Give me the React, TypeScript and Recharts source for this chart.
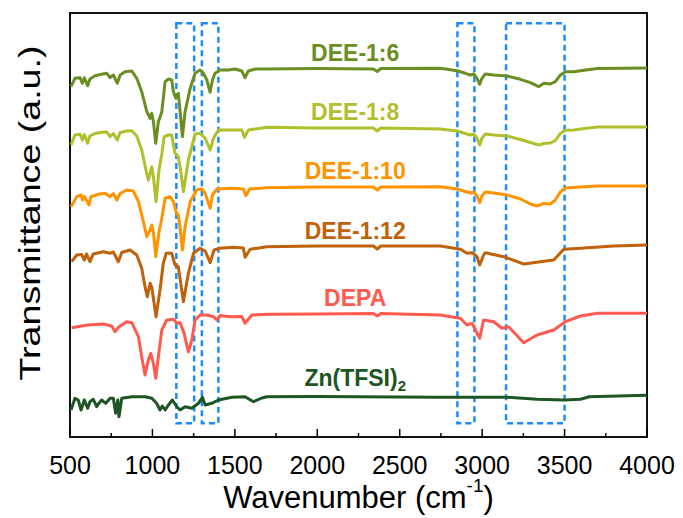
import React from 'react';
import { LineChart, Line, XAxis, YAxis, ReferenceArea, ReferenceDot } from 'recharts';

const FONT = 'Arial, "Liberation Sans", sans-serif';

type Pt = [number, number];

// FTIR spectra, [wavenumber cm-1, offset transmittance a.u.]
const DEE_1_6: Pt[] = [
  [506, 350.3], [530, 358.7], [561, 359.3], [575, 353.7], [587, 359.3], [607, 351.3], [621, 358], [652, 361.3],
  [692, 362.7], [723, 363.7], [743, 359.3], [763, 362], [787, 353.7], [804, 362], [834, 365.3], [875, 366],
  [905, 358.7], [935, 345.3], [966, 325.3], [986, 318.7], [996, 323.7], [1006, 315.3], [1020, 293.7], [1036, 315.3],
  [1057, 325.3], [1077, 355.3], [1097, 358], [1117, 357], [1127, 345.3], [1142, 338.7], [1157, 343.7], [1168, 325.3],
  [1182, 300.3], [1198, 325.3], [1229, 348.7], [1259, 363.7], [1289, 367], [1309, 363.7], [1330, 357], [1350, 344.7],
  [1364, 357], [1380, 363.7], [1411, 367], [1461, 367], [1502, 368], [1542, 366], [1562, 359.3], [1582, 366],
  [1623, 368], [1684, 368], [2000, 368.5], [2340, 368], [2364, 365.5], [2385, 368.5], [2746, 368.7], [2848, 366.3],
  [2898, 363.7], [2928, 362], [2949, 363], [2969, 358.7], [2985, 352.7], [2999, 358.7], [3019, 363], [3070, 362],
  [3151, 361], [3232, 357.7], [3293, 354.3], [3343, 350.3], [3374, 353.7], [3414, 353], [3444, 355.3], [3475, 362],
  [3505, 365.3], [3556, 365.3], [3596, 366.3], [3700, 368.5], [3850, 368.7], [4000, 369],
];

const DEE_1_8: Pt[] = [
  [506, 292], [530, 302], [561, 302.7], [575, 297], [587, 302.5], [607, 293.7], [621, 301], [652, 303.5],
  [692, 304.7], [723, 305], [743, 300.3], [763, 303.5], [787, 297], [804, 304.5], [844, 306], [875, 306.3],
  [905, 301], [935, 287], [966, 263], [976, 257], [996, 270.3], [1006, 260], [1022, 235.3], [1040, 267],
  [1057, 283], [1071, 300.3], [1097, 302], [1117, 302], [1137, 283.7], [1157, 280.3], [1170, 268], [1188, 245.3],
  [1218, 277], [1259, 303], [1289, 303.7], [1320, 298.7], [1350, 287], [1370, 298.7], [1400, 307], [1471, 307],
  [1542, 307], [1558, 299.7], [1582, 307], [1694, 309.7], [2000, 309], [2340, 309], [2364, 306], [2385, 309],
  [2746, 308], [2848, 306], [2898, 303.5], [2928, 302], [2949, 303], [2969, 299], [2985, 292], [2999, 299],
  [3019, 303], [3070, 302], [3151, 301], [3232, 297.5], [3293, 294.5], [3343, 292], [3374, 293.5], [3414, 294],
  [3444, 296.5], [3475, 303.7], [3505, 306.7], [3556, 307], [3596, 308], [3700, 310], [4000, 310],
];

const DEE_1_10: Pt[] = [
  [506, 230.3], [541, 240.3], [567, 242], [577, 237], [587, 240.5], [615, 232], [627, 240.3], [672, 242.7],
  [712, 243.7], [743, 240.3], [763, 243.5], [784, 237], [804, 243.5], [844, 247], [884, 246], [915, 235.3],
  [945, 215.3], [966, 200.3], [986, 207], [996, 212], [1006, 205], [1020, 180.3], [1040, 205.3], [1057, 218.7],
  [1077, 238.7], [1107, 240.3], [1127, 235.3], [1142, 225.3], [1157, 222], [1168, 208.7], [1182, 187], [1198, 210.3],
  [1229, 235.3], [1269, 247], [1300, 248], [1320, 243.7], [1350, 228.7], [1364, 242], [1391, 248], [1482, 248.7],
  [1552, 248], [1567, 241.3], [1590, 248], [1684, 249.3], [2000, 250], [2340, 250], [2364, 247], [2385, 250],
  [2746, 250.3], [2848, 248], [2898, 245.5], [2928, 244], [2949, 245], [2969, 241], [2985, 234.3], [2999, 241],
  [3019, 245], [3070, 244], [3151, 242], [3232, 238], [3293, 233], [3333, 231], [3374, 233.5], [3414, 233],
  [3444, 237], [3475, 245.3], [3505, 249], [3556, 249.5], [3596, 250], [3700, 251], [4000, 251],
];

const DEE_1_12: Pt[] = [
  [510, 175.3], [541, 182], [570, 182.5], [587, 177], [600, 183], [621, 175.3], [641, 183], [702, 185.3],
  [743, 183.7], [763, 185], [793, 175.3], [814, 184.5], [864, 187], [905, 182], [935, 168.7], [955, 150.3],
  [969, 140.3], [986, 153.7], [996, 150], [1022, 120.3], [1046, 147], [1066, 173.7], [1083, 183.7], [1117, 183.7],
  [1137, 172], [1157, 170.3], [1188, 135.3], [1218, 163.7], [1249, 183.7], [1289, 188.7], [1320, 186], [1350, 174.3],
  [1374, 187], [1411, 188.7], [1491, 189.7], [1552, 189], [1562, 179.7], [1593, 187.7], [1694, 190.3], [2000, 191],
  [2340, 191], [2364, 188], [2385, 191], [2746, 191], [2868, 187.7], [2908, 183.7], [2939, 184.3], [2969, 180.3],
  [2985, 172], [3009, 182], [3019, 184.3], [3131, 180.3], [3252, 173], [3353, 175.3], [3434, 177], [3495, 187.7],
  [3596, 188.7], [3800, 191], [4000, 192],
];

const DEPA: Pt[] = [
  [510, 109.3], [607, 112], [702, 113], [753, 111], [773, 105.3], [797, 110.3], [844, 115.3], [875, 114.3],
  [915, 100.3], [935, 80.3], [955, 62], [975, 77], [990, 83.7], [1006, 73.7], [1020, 58.7], [1036, 80.3],
  [1057, 107], [1087, 117], [1127, 117.7], [1148, 113.7], [1168, 114.3], [1192, 103.7], [1218, 85.3], [1239, 97],
  [1259, 117], [1289, 122], [1330, 122], [1370, 120.3], [1391, 117], [1411, 121.5], [1471, 120.3], [1542, 120.5],
  [1562, 113.7], [1603, 122], [1694, 122.7], [2000, 123], [2340, 123.5], [2364, 121], [2385, 123.5], [2746, 122],
  [2868, 118.7], [2908, 112], [2939, 113.7], [2985, 98.7], [3009, 117], [3070, 115.3], [3121, 108.7], [3161, 110.3],
  [3252, 94.3], [3333, 102], [3434, 107], [3505, 115.3], [3596, 121], [3700, 123.7], [4000, 123.7],
];

const ZN_TFSI2: Pt[] = [
  [506, 27], [530, 38.7], [550, 37], [567, 27], [587, 37], [607, 28.7], [621, 35.3], [641, 37.7],
  [662, 30.3], [672, 33], [692, 37], [717, 33.7], [743, 38.7], [763, 38.7], [777, 23.7], [790, 37],
  [797, 20.3], [814, 38.7], [875, 40.3], [955, 40.3], [996, 38.7], [1026, 33.7], [1046, 27], [1060, 31],
  [1077, 27], [1097, 32], [1121, 37], [1148, 30.3], [1168, 27], [1198, 30.3], [1239, 28.7], [1279, 33.7],
  [1303, 39.7], [1320, 32], [1360, 33.7], [1400, 37], [1482, 39.7], [1562, 40.3], [1613, 35.3], [1664, 39],
  [1694, 40.3], [2000, 40.5], [2746, 39.7], [3151, 39.7], [3333, 37.7], [3495, 37], [3596, 37.7], [3650, 40.3],
  [4000, 41.7],
];

const X_TICKS = [500, 750, 1000, 1250, 1500, 1750, 2000, 2250, 2500, 2750, 3000, 3250, 3500, 3750, 4000];

// highlighted bands [from, to] in cm-1
const BANDS: Pt[] = [[1145, 1253], [1300, 1400], [2850, 2953], [3145, 3500]];

const SERIES = [
  { name: 'DEE-1:6', color: '#6B8E23', points: DEE_1_6, lx: 2230, ly: 384.5 },
  { name: 'DEE-1:8', color: '#AFC02C', points: DEE_1_8, lx: 2230, ly: 325.5 },
  { name: 'DEE-1:10', color: '#FF9300', points: DEE_1_10, lx: 2230, ly: 266 },
  { name: 'DEE-1:12', color: '#BF620A', points: DEE_1_12, lx: 2230, ly: 206 },
  { name: 'DEPA', color: '#FF5A50', points: DEPA, lx: 2230, ly: 139 },
  { name: 'Zn(TFSI)2', color: '#1D5524', points: ZN_TFSI2, lx: 2230, ly: 59 },
];

const XTick = (props: any) => {
  const { x, y, payload } = props;
  const major = payload.value % 500 === 0;
  return (
    <g>
      <line x1={x} x2={x} y1={y} y2={y - (major ? 8 : 4)} stroke="#000" strokeWidth={1.5} />
      {major && (
        <text x={x} y={y + 28} textAnchor="middle" dominantBaseline="central" fontSize={25} fontFamily={FONT} fill="#000">
          {payload.value}
        </text>
      )}
    </g>
  );
};

const seriesLabel = (name: string, color: string) => (props: any) => {
  const { x, y } = props.viewBox;
  const common = { fill: color, fontSize: 23, fontWeight: 700, fontFamily: FONT };
  if (name === 'Zn(TFSI)2') {
    return (
      <text x={x} y={y} textAnchor="middle" dominantBaseline="central" {...common}>
        Zn(TFSI)<tspan dy={7} fontSize={15}>2</tspan>
      </text>
    );
  }
  return (
    <text x={x} y={y} textAnchor="middle" dominantBaseline="central" {...common}>
      {name}
    </text>
  );
};

const XTitle = (props: any) => {
  const { x, y, width } = props.viewBox;
  return (
    <text x={x + width / 2} y={y + 60} textAnchor="middle" dominantBaseline="central" fontSize={31} fontFamily={FONT} fill="#000">
      Wavenumber (cm<tspan dy={-12} fontSize={19}>-1</tspan><tspan dy={12}>)</tspan>
    </text>
  );
};

const YTitle = (props: any) => {
  const { x, y } = props.viewBox;
  const cx = x + 21;
  const cy = y + 200;
  return (
    <text
      x={cx}
      y={cy}
      transform={`rotate(-90 ${cx} ${cy})`}
      textAnchor="middle"
      dominantBaseline="central"
      fontSize={30}
      textLength={335}
      lengthAdjust="spacingAndGlyphs"
      fontFamily={FONT}
      fill="#000"
    >
      Transmittance (a.u.)
    </text>
  );
};

export default function App() {
  return (
    <LineChart width={675} height={510} margin={{ top: 5, right: 36, bottom: 0, left: 0 }}>
      <XAxis
        type="number"
        dataKey="x"
        domain={[500, 4000]}
        ticks={X_TICKS}
        interval={0}
        allowDataOverflow
        height={81}
        tickSize={0}
        tickMargin={0}
        axisLine={false}
        tickLine={false}
        tick={<XTick />}
        label={{ content: XTitle }}
      />
      <YAxis
        type="number"
        domain={[0, 424]}
        width={62}
        tick={false}
        tickLine={false}
        axisLine={false}
        allowDataOverflow
        label={{ content: YTitle }}
      />
      {BANDS.map(([a, b]) => (
        <ReferenceArea key={a} x1={a} x2={b} y1={13.7} y2={413.7} fill="none" stroke="#1A8CFF" strokeWidth={2.5} strokeDasharray="6 4" />
      ))}
      {SERIES.map((s) => (
        <Line
          key={s.name}
          data={s.points.map(([x, y]) => ({ x, y }))}
          dataKey="y"
          stroke={s.color}
          strokeWidth={3}
          strokeLinejoin="round"
          dot={false}
          type="linear"
          isAnimationActive={false}
        />
      ))}
      {SERIES.map((s) => (
        <ReferenceDot key={`l-${s.name}`} x={s.lx} y={s.ly} r={0} fill="none" stroke="none" label={{ content: seriesLabel(s.name, s.color) }} />
      ))}
      <ReferenceArea x1={500} x2={4000} y1={0} y2={424} fill="none" stroke="#111" strokeWidth={2} />
    </LineChart>
  );
}
